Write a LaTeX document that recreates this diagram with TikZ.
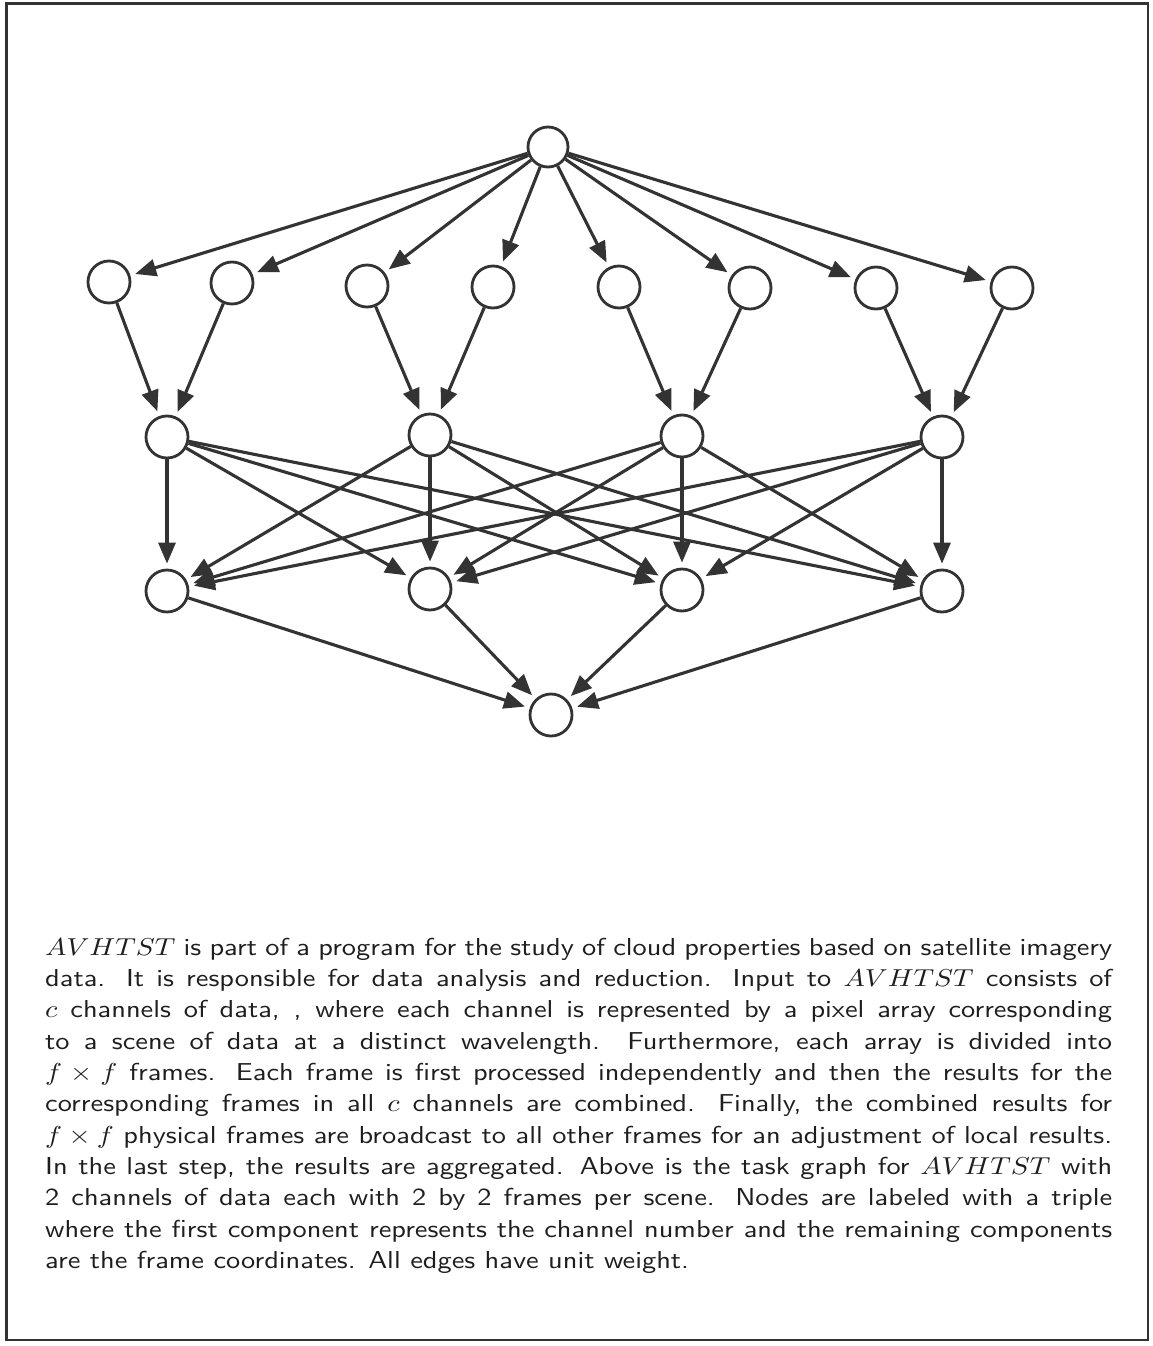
\documentclass[tikz,border=0pt]{standalone}
\usepackage{graphicx}
\usetikzlibrary{arrows.meta}
\definecolor{ink}{RGB}{51,51,51}
\definecolor{txt}{RGB}{30,30,30}
\begin{document}
\begin{tikzpicture}[x=1pt,y=-1pt,
  tnode/.style={circle, draw=ink, line width=2.8pt, minimum size=42pt, inner sep=0pt, fill=white},
  arr/.style={draw=ink, line width=3.1pt, -{Triangle[length=21pt,width=17pt]}, shorten >=5pt},
  frame/.style={draw=ink, line width=2.6pt}]
\useasboundingbox (0,0) rectangle (1153,1346);
\fill[white] (0,0) rectangle (1153,1346);
\draw[frame] (6.5,3.5) rectangle (1148,1340);
% nodes
\node[tnode, minimum size=40pt] (t) at (548,147) {};
\node[tnode] (a1) at (109,282) {};
\node[tnode] (a2) at (232,283) {};
\node[tnode] (a3) at (367,286) {};
\node[tnode] (a4) at (493,287) {};
\node[tnode] (a5) at (619,287) {};
\node[tnode] (a6) at (750,288) {};
\node[tnode] (a7) at (876,288) {};
\node[tnode] (a8) at (1012,288) {};
\node[tnode] (b1) at (167,437) {};
\node[tnode] (b2) at (430,435) {};
\node[tnode] (b3) at (682,436) {};
\node[tnode] (b4) at (942,437) {};
\node[tnode] (c1) at (167,591) {};
\node[tnode] (c2) at (430,589) {};
\node[tnode] (c3) at (682,590) {};
\node[tnode] (c4) at (942,591) {};
\node[tnode] (z) at (551,715) {};
% edges
\foreach \n in {a1,a2,a3,a4,a5,a6,a7,a8} \draw[arr] (t) -- (\n);
\draw[arr] (a1) -- (b1); \draw[arr] (a2) -- (b1);
\draw[arr] (a3) -- (b2); \draw[arr] (a4) -- (b2);
\draw[arr] (a5) -- (b3); \draw[arr] (a6) -- (b3);
\draw[arr] (a7) -- (b4); \draw[arr] (a8) -- (b4);
\foreach \s in {b1,b2,b3,b4} \foreach \d in {c1,c2,c3,c4} \draw[arr] (\s) -- (\d);
\foreach \n in {c1,c2,c3,c4} \draw[arr] (\n) -- (z);
% caption
\node[anchor=base west, inner sep=0pt, text=txt] (cap) at (45,938) {\scalebox{2.84}[2.45]{\parbox[t]{375.7pt}{%
\sffamily\fontsize{10}{12.78}\selectfont\color{txt}\hyphenpenalty=10000 \exhyphenpenalty=10000 \emergencystretch=2em
$AVHTST$ is part of a program for the study of cloud properties based on satellite imagery\linebreak
data. It is responsible for data analysis and reduction. Input to $AVHTST$ consists of\linebreak
$c$ channels of data, , where each channel is represented by a pixel array corresponding\linebreak
to a scene of data at a distinct wavelength. Furthermore, each array is divided into\linebreak
$f \times f$ frames. Each frame is first processed independently and then the results for the\linebreak
corresponding frames in all $c$ channels are combined. Finally, the combined results for\linebreak
$f \times f$ physical frames are broadcast to all other frames for an adjustment of local results.\linebreak
In the last step, the results are aggregated. Above is the task graph for $AVHTST$ with\linebreak
2 channels of data each with 2 by 2 frames per scene. Nodes are labeled with a triple\linebreak
where the first component represents the channel number and the remaining components\linebreak
are the frame coordinates. All edges have unit weight.}}};
\end{tikzpicture}
\end{document}
